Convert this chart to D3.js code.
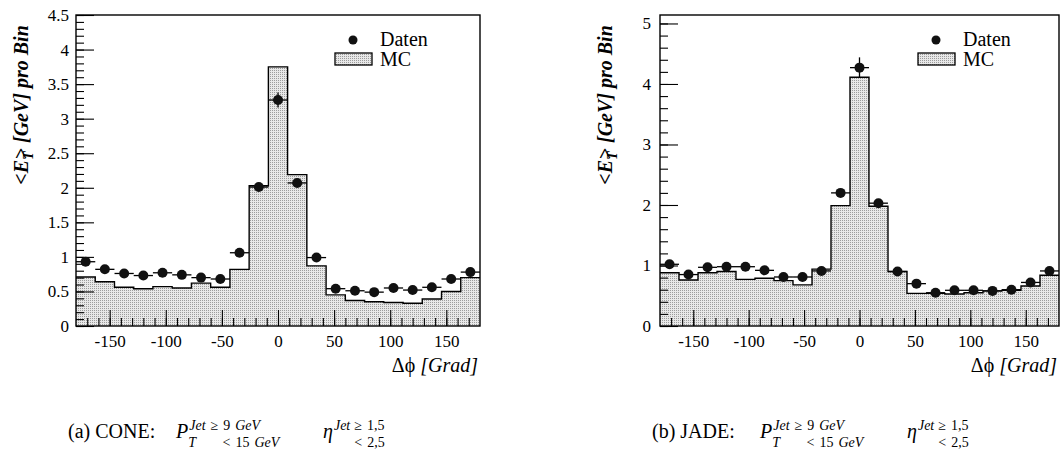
<!DOCTYPE html>
<html>
<head>
<meta charset="utf-8">
<script src="https://cdn.jsdelivr.net/npm/d3@7"></script>
<style>
  body { margin: 0; background: #fff; }
  svg text { font-family: "Liberation Serif", "Times New Roman", serif; fill: #000; }
</style>
</head>
<body>
<div id="chart"></div>
<script>

// #####################################################
// Data
//
// bin centres in degrees, 21 bins over -180..180
var dphi = [-171.4, -154.3, -137.1, -120.0, -102.9, -85.7, -68.6, -51.4, -34.3, -17.1,
            0.0, 17.1, 34.3, 51.4, 68.6, 85.7, 102.9, 120.0, 137.1, 154.3, 171.4];
var binWidth = 17.14;

// (a) CONE
var coneData = [0.93, 0.82, 0.76, 0.73, 0.77, 0.74, 0.70, 0.68, 1.06, 2.01,
                3.27, 2.07, 0.99, 0.54, 0.51, 0.49, 0.55, 0.52, 0.56, 0.68, 0.78];
var coneErr  = [0.03, 0.03, 0.03, 0.03, 0.03, 0.03, 0.03, 0.03, 0.04, 0.05,
                0.11, 0.05, 0.04, 0.03, 0.03, 0.03, 0.03, 0.03, 0.03, 0.03, 0.03];
var coneMC   = [0.71, 0.64, 0.56, 0.54, 0.57, 0.55, 0.62, 0.56, 0.82, 2.03,
                3.75, 2.19, 0.87, 0.45, 0.37, 0.35, 0.34, 0.33, 0.39, 0.50, 0.70];

// (b) JADE
var jadeData = [1.02, 0.85, 0.97, 0.98, 0.98, 0.92, 0.81, 0.81, 0.91, 2.20,
                4.27, 2.03, 0.90, 0.70, 0.55, 0.59, 0.59, 0.58, 0.60, 0.72, 0.91];
var jadeErr  = [0.03, 0.03, 0.03, 0.03, 0.03, 0.03, 0.03, 0.03, 0.04, 0.06,
                0.17, 0.06, 0.04, 0.03, 0.03, 0.03, 0.03, 0.03, 0.03, 0.03, 0.03];
var jadeMC   = [0.88, 0.76, 0.88, 0.90, 0.77, 0.79, 0.75, 0.68, 0.94, 1.99,
                4.11, 1.98, 0.90, 0.54, 0.54, 0.53, 0.55, 0.58, 0.59, 0.66, 0.84];

// tick labels
var xTicks = [-150, -100, -50, 0, 50, 100, 150];
var coneYTicks = [0, 0.5, 1, 1.5, 2, 2.5, 3, 3.5, 4, 4.5];
var jadeYTicks = [0, 1, 2, 3, 4, 5];

var svg = d3.select("#chart").append("svg")
    .attr("width", 1063)
    .attr("height", 457);

// stipple fill for the MC histogram
var pat = svg.append("defs").append("pattern")
    .attr("id", "stipple")
    .attr("width", 2).attr("height", 2)
    .attr("patternUnits", "userSpaceOnUse");
pat.append("rect").attr("width", 2).attr("height", 2).attr("fill", "#e8e8e8");
pat.append("rect").attr("width", 1).attr("height", 1).attr("fill", "#9c9c9c");

// #####################################################
// One panel
//
function draw_panel (cfg) {

  var x = d3.scaleLinear().domain([-180, 180]).range([cfg.left, cfg.right]);
  var y = d3.scaleLinear().domain([0, cfg.ymax]).range([cfg.bottom, cfg.top]);
  var g = svg.append("g");

  // MC histogram
  var steps = [];
  for (var i=0; i<dphi.length; i++) {
    steps.push({x: dphi[i] - binWidth/2, v: cfg.mc[i]});
    steps.push({x: dphi[i] + binWidth/2, v: cfg.mc[i]});
  };
  g.append("path")
      .datum(steps)
      .attr("fill", "url(#stipple)")
      .attr("d", d3.area()
          .x(function(d) { return x(Math.max(-180, Math.min(180, d.x))); })
          .y0(y(0))
          .y1(function(d) { return y(d.v); }));
  g.append("path")
      .datum(steps)
      .attr("fill", "none")
      .attr("stroke", "#000")
      .attr("stroke-width", 1.4)
      .attr("d", d3.line()
          .x(function(d) { return x(Math.max(-180, Math.min(180, d.x))); })
          .y(function(d) { return y(d.v); }));

  // axes: ticks point inwards
  g.append("g")
      .attr("transform", "translate(0," + cfg.bottom + ")")
      .call(d3.axisBottom(x).tickValues(d3.range(-170, 171, 10)).tickSizeInner(-8).tickSizeOuter(0).tickFormat(""))
      .call(function(a) { a.select(".domain").remove(); });
  g.append("g")
      .attr("transform", "translate(0," + cfg.bottom + ")")
      .call(d3.axisBottom(x).tickValues(xTicks).tickSizeInner(-16).tickSizeOuter(0).tickPadding(9)
          .tickFormat(function(d) { return String(d); }))
      .call(function(a) {
        a.select(".domain").remove();
        a.selectAll("text").style("font-size", "17px").style("font-family", "Liberation Serif");
      });

  g.append("g")
      .attr("transform", "translate(" + cfg.left + ",0)")
      .call(d3.axisLeft(y).tickValues(d3.range(0, cfg.ymax + 0.001, cfg.yMinor)).tickSizeInner(-8).tickSizeOuter(0).tickFormat(""))
      .call(function(a) { a.select(".domain").remove(); });
  g.append("g")
      .attr("transform", "translate(" + cfg.left + ",0)")
      .call(d3.axisLeft(y).tickValues(cfg.yTicks).tickSizeInner(-18).tickSizeOuter(0).tickPadding(cfg.yPad)
          .tickFormat(function(d) { return String(d); }))
      .call(function(a) {
        a.select(".domain").remove();
        a.selectAll("text").style("font-size", "17px").style("font-family", "Liberation Serif");
      });
  g.selectAll(".tick line").attr("stroke", "#000").attr("stroke-width", 1.1);

  // frame
  g.append("rect")
      .attr("x", cfg.left).attr("y", cfg.top)
      .attr("width", cfg.right - cfg.left)
      .attr("height", cfg.bottom - cfg.top)
      .attr("fill", "none")
      .attr("stroke", "#000")
      .attr("stroke-width", 1.4);

  // data points with error bars
  var pts = g.selectAll(".pt")
      .data(dphi.map(function(c, i) { return {c: c, v: cfg.data[i], e: cfg.err[i]}; }))
      .enter().append("g").attr("class", "pt");
  pts.append("line")
      .attr("x1", function(d) { return x(d.c - binWidth/2); })
      .attr("x2", function(d) { return x(d.c + binWidth/2); })
      .attr("y1", function(d) { return y(d.v); })
      .attr("y2", function(d) { return y(d.v); })
      .attr("stroke", "#000").attr("stroke-width", 1.3);
  pts.append("line")
      .attr("x1", function(d) { return x(d.c); })
      .attr("x2", function(d) { return x(d.c); })
      .attr("y1", function(d) { return y(d.v - d.e); })
      .attr("y2", function(d) { return y(d.v + d.e); })
      .attr("stroke", "#000").attr("stroke-width", 1.3);
  pts.append("circle")
      .attr("cx", function(d) { return x(d.c); })
      .attr("cy", function(d) { return y(d.v); })
      .attr("r", 5)
      .attr("fill", "#111");

  // legend
  g.append("circle").attr("cx", cfg.legX + 18).attr("cy", 40).attr("r", 4.5).attr("fill", "#111");
  g.append("rect")
      .attr("x", cfg.legX).attr("y", 53)
      .attr("width", 37).attr("height", 12)
      .attr("fill", "url(#stipple)")
      .attr("stroke", "#000").attr("stroke-width", 1.3);
  g.append("text").attr("x", cfg.legX + 45).attr("y", 46).style("font-size", "20px").text("Daten");
  g.append("text").attr("x", cfg.legX + 45).attr("y", 66).style("font-size", "20px").text("MC");

  // y title
  var yt = g.append("text")
      .attr("transform", "translate(" + cfg.titleX + ",105) rotate(-90)")
      .attr("text-anchor", "middle")
      .style("font-size", "20px")
      .style("font-weight", "bold")
      .style("font-style", "italic");
  yt.append("tspan").text("<E");
  yt.append("tspan").attr("dy", 5).style("font-size", "14px").text("T");
  yt.append("tspan").attr("dy", -5).attr("dx", -8).text(">");
  yt.append("tspan").text(" [GeV] pro Bin");

  // x title
  var xt = g.append("text")
      .attr("x", cfg.right - 2).attr("y", 372)
      .attr("text-anchor", "end")
      .style("font-size", "20px");
  xt.append("tspan").text("Δϕ ");
  xt.append("tspan").style("font-style", "italic").text("[Grad]");
};

// #####################################################
// Captions below the panels
//
function caption (x0, base, label) {
  var c = svg.append("g").style("font-family", "Liberation Serif");
  var up = base - 8, lo = base + 9;

  function put(str, xx, yy, size, italic) {
    var t = c.append("text").attr("x", xx).attr("y", yy)
        .style("font-size", size + "px")
        .style("font-style", italic ? "italic" : "normal")
        .text(str);
    return t.node().getComputedTextLength();
  }
  // a row of small pieces separated by gaps, returns its width
  function row(parts, xx, yy) {
    var w = 0;
    parts.forEach(function(p, k) {
      w += put(p[0], xx + w, yy, 14, p[1]) + (k < parts.length - 1 ? 5 : 0);
    });
    return w;
  }

  put(label, x0, base, 20, false);

  // P_T with its cuts
  var cur = x0 + 108;
  cur += put("P", cur, base, 20, true);
  var wSub = put("T", cur, lo, 14, true);
  var wSup = put("Jet", cur + 1, up, 14, true);
  cur += Math.max(wSub, wSup + 1) + 5;
  row([["≥", false], ["9", false], ["GeV", true]], cur, up);
  row([["<", false], ["15", false], ["GeV", true]], cur + 12, lo);

  // eta with its cuts
  cur = x0 + 255;
  cur += put("η", cur, base, 20, true);
  wSup = put("Jet", cur + 1, up, 14, true);
  cur += wSup + 5;
  row([["≥", false], ["1,5", false]], cur, up);
  row([["<", false], ["2,5", false]], cur, lo);
}

draw_panel({
  left: 76, right: 480, top: 15, bottom: 326,
  ymax: 4.5, yTicks: coneYTicks, yMinor: 0.1, yPad: 7,
  data: coneData, err: coneErr, mc: coneMC,
  legX: 335, titleX: 28
});

draw_panel({
  left: 660, right: 1059, top: 15, bottom: 326,
  ymax: 5.14, yTicks: jadeYTicks, yMinor: 0.2, yPad: 9,
  data: jadeData, err: jadeErr, mc: jadeMC,
  legX: 918, titleX: 612
});

caption(68, 438, "(a) CONE:");
caption(652, 438, "(b) JADE:");

</script>
</body>
</html>
